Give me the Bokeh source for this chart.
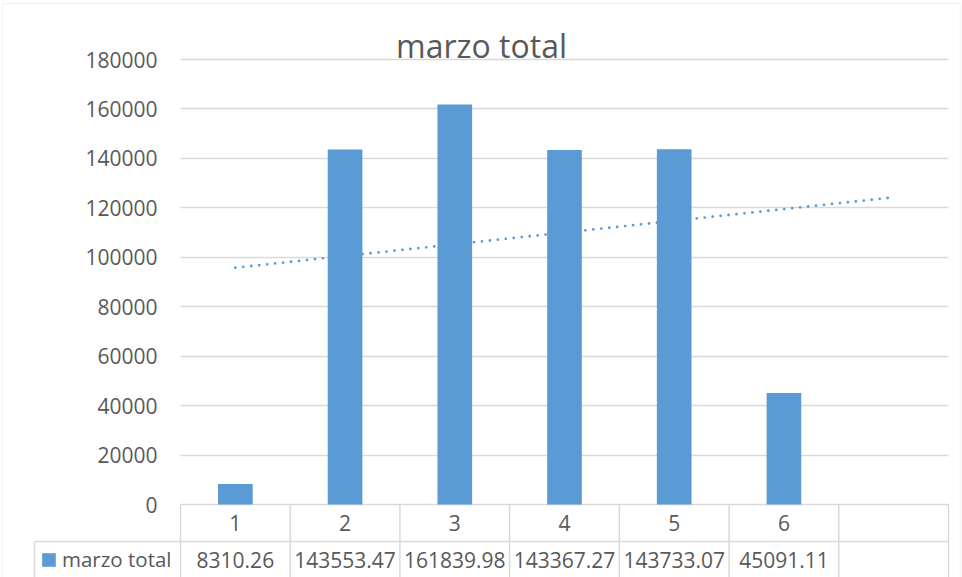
import numpy as np
from bokeh.plotting import figure
from bokeh.models import (Range1d, LinearAxis, FixedTicker, NumeralTickFormatter,
                          Legend, LegendItem, BoxAnnotation)
from bokeh.core.properties import value
from bokeh.embed import file_html
from bokeh.resources import INLINE

# ---------------- data ----------------
TITLE = "marzo total"
SERIES_NAME = "marzo total"
CATEGORIES = [1, 2, 3, 4, 5, 6]
MARZO_TOTAL = [8310.26, 143553.47, 161839.98, 143367.27, 143733.07, 45091.11]
Y_TICKS = [0, 20000, 40000, 60000, 80000, 100000, 120000, 140000, 160000, 180000]
N_SLOTS = 7            # the data table shows one extra empty column
TREND_X = [1, 7]       # linear trendline drawn over the slots

# ---------------- style / layout ----------------
BAR_COLOR = "#5B9BD5"
TEXT_COLOR = "#595959"
LINE_COLOR = "#D9D9D9"
FONT = "Open Sans"

W, H = 962, 577
PLOT_LEFT_PX = 180      # slot boundary x = 0.5
PLOT_RIGHT_PX = 948     # slot boundary x = 7.5
ZERO_PX = 504           # y = 0
TOP_TICK_PX = 59        # y = 180000
ROW_H = 37              # data table row height
TABLE_LEFT_PX = 34      # left edge of the table header cell
TITLE_X_PX = 481        # title centre
TITLE_Y_PX = 44.5       # title anchor

px_per_x = (PLOT_RIGHT_PX - PLOT_LEFT_PX) / N_SLOTS
def x_of(px):
    return 0.5 + (px - PLOT_LEFT_PX) / px_per_x

u = Y_TICKS[-1] / (ZERO_PX - TOP_TICK_PX)   # data units per px
def y_of(py):
    return (ZERO_PX - py) * u

x_range = Range1d(x_of(0), x_of(W))
y_range = Range1d(y_of(H), y_of(0))

p = figure(width=W, height=H, x_range=x_range, y_range=y_range,
           x_axis_type=None, y_axis_type=None,
           toolbar_location=None, output_backend="svg",
           min_border_left=0, min_border_right=0, min_border_bottom=0,
           min_border_top=0, outline_line_color=None,
           background_fill_color="white", border_fill_color="white")
p.title.visible = False

# chart title
p.text(x=[x_of(TITLE_X_PX)], y=[y_of(TITLE_Y_PX)], text=[TITLE],
       text_align="center", text_baseline="alphabetic",
       text_font=value(FONT), text_font_size="32px", text_color=TEXT_COLOR)

# y axis drawn at the left edge of the plot area; its inward ticks form the gridlines
yaxis = LinearAxis(fixed_location=0.5, ticker=FixedTicker(ticks=Y_TICKS),
                   formatter=NumeralTickFormatter(format="0"),
                   axis_line_color=None,
                   major_tick_out=0, major_tick_in=PLOT_RIGHT_PX - PLOT_LEFT_PX,
                   major_tick_line_color=LINE_COLOR, major_tick_line_width=1.5,
                   minor_tick_line_color=None,
                   major_label_standoff=23,
                   major_label_text_font=FONT, major_label_text_font_size="21px",
                   major_label_text_color=TEXT_COLOR, level="underlay")
p.add_layout(yaxis, "left")

bars = p.vbar(x=CATEGORIES, top=MARZO_TOTAL, width=0.316, bottom=0,
              fill_color=BAR_COLOR, line_color=None)

# linear trendline (least squares on the data)
coef = np.polyfit(CATEGORIES, MARZO_TOTAL, 1)
trend_y = list(np.polyval(coef, TREND_X))
p.line(x=TREND_X, y=trend_y, line_color=BAR_COLOR, line_width=2.8,
       line_dash="0 8", line_cap="round")

# ---------------- data table below the plot area ----------------
left_x = x_of(TABLE_LEFT_PX)
right_x = 0.5 + N_SLOTS
row1_bottom = -ROW_H * u
row2_bottom = -2 * ROW_H * u
boundaries = [0.5 + i for i in range(N_SLOTS + 1)]

# grid lines of the table
vx = boundaries + [left_x]
vy0 = [0] * len(boundaries) + [row1_bottom]
vy1 = [row2_bottom] * (len(boundaries) + 1)
p.segment(x0=vx, y0=vy0, x1=vx, y1=vy1, line_color=LINE_COLOR, line_width=1.5)
p.segment(x0=[left_x], y0=[row1_bottom], x1=[right_x], y1=[row1_bottom],
          line_color=LINE_COLOR, line_width=1.5)

# category row and value row
p.text(x=CATEGORIES, y=[row1_bottom / 2] * len(CATEGORIES),
       text=[str(c) for c in CATEGORIES],
       text_align="center", text_baseline="middle",
       text_font=value(FONT), text_font_size="21px", text_color=TEXT_COLOR)
p.text(x=CATEGORIES, y=[(row1_bottom + row2_bottom) / 2] * len(CATEGORIES),
       text=[f"{v:.2f}" for v in MARZO_TOTAL],
       text_align="center", text_baseline="middle",
       text_font=value(FONT), text_font_size="21px", text_color=TEXT_COLOR)

legend = Legend(items=[LegendItem(label=SERIES_NAME, renderers=[bars])],
                location=(40, 4),
                padding=0, margin=0, spacing=0,
                glyph_width=17, glyph_height=17, label_standoff=5,
                label_text_font=FONT, label_text_font_size="20.5px",
                label_text_color=TEXT_COLOR,
                border_line_color=None, background_fill_alpha=0)
p.add_layout(legend)

# light border around the whole chart
border = BoxAnnotation(left=2, right=960, top=3, bottom=600,
                       left_units="canvas", right_units="canvas",
                       top_units="canvas", bottom_units="canvas",
                       fill_alpha=0, line_color=LINE_COLOR, line_width=1.5)
p.add_layout(border)

open("out.html", "w").write(file_html(p, INLINE, title=TITLE))
